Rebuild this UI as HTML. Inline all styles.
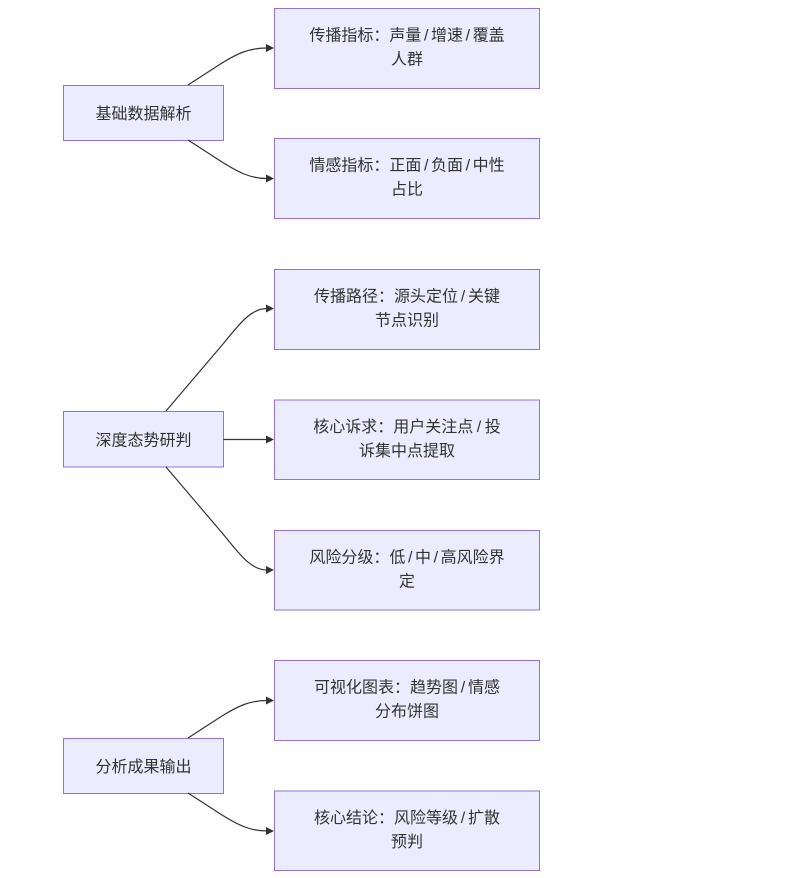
<!DOCTYPE html>
<html><head><meta charset="utf-8"><style>
html,body{margin:0;padding:0;background:#fff;}
svg{display:block;}
text{font-family:"Liberation Sans","Noto Sans CJK SC",sans-serif;font-size:16px;fill:#333;text-anchor:middle;}
.n{fill:#ECECFF;stroke:#9370DB;stroke-width:1;}
.e{fill:none;stroke:#333;stroke-width:1.2;}
.a{fill:#333;}
</style></head><body>
<svg width="810" height="878" viewBox="0 0 810 878" xmlns="http://www.w3.org/2000/svg">
<!-- group 1 -->
<rect class="n" x="63.5" y="85.5" width="160" height="55"/>
<text x="143.5" y="119">基础数据解析</text>
<rect class="n" x="274.5" y="8.5" width="265" height="80"/>
<text x="407" y="40.5">传播指标：声量<tspan dx="2.6">/</tspan><tspan dx="2.6">增速</tspan><tspan dx="2.6">/</tspan><tspan dx="2.6">覆盖</tspan></text>
<text x="407" y="64.5">人群</text>
<rect class="n" x="274.5" y="138.5" width="265" height="80"/>
<text x="407" y="170.5">情感指标：正面<tspan dx="2.6">/</tspan><tspan dx="2.6">负面</tspan><tspan dx="2.6">/</tspan><tspan dx="2.6">中性</tspan></text>
<text x="407" y="194.5">占比</text>
<path class="e" d="M188,85 L222,63 C238,53 250,48 267,48"/>
<polygon class="a" points="266,44 274,48 266,52"/>
<path class="e" d="M188,140 L222,162 C238,172 250,178.5 267,178.5"/>
<polygon class="a" points="266,174.5 274,178.5 266,182.5"/>

<!-- group 2 -->
<rect class="n" x="63.5" y="411.5" width="160" height="55.5"/>
<text x="143.5" y="445.5">深度态势研判</text>
<rect class="n" x="274.5" y="269.5" width="265" height="80"/>
<text x="407" y="301.5">传播路径：源头定位<tspan dx="2.8">/</tspan><tspan dx="2.8">关键</tspan></text>
<text x="407" y="325.5">节点识别</text>
<rect class="n" x="274.5" y="400" width="265" height="79.5"/>
<text x="407" y="432">核心诉求：用户关注点<tspan dx="3.5">/</tspan><tspan dx="3.5">投</tspan></text>
<text x="407" y="456">诉集中点提取</text>
<rect class="n" x="274.5" y="530.5" width="265" height="79.5"/>
<text x="407" y="562.5">风险分级：低<tspan dx="2.6">/</tspan><tspan dx="2.6">中</tspan><tspan dx="2.6">/</tspan><tspan dx="2.6">高风险界</tspan></text>
<text x="407" y="586.5">定</text>
<path class="e" d="M166,411 L223,344 C238,326 250,308.5 267,308.5"/>
<polygon class="a" points="266,304.5 274,308.5 266,312.5"/>
<path class="e" d="M223.5,439.5 L267,439.5"/>
<polygon class="a" points="266,435.5 274,439.5 266,443.5"/>
<path class="e" d="M166,467 L223,534 C238,552 250,570 267,570"/>
<polygon class="a" points="266,566 274,570 266,574"/>

<!-- group 3 -->
<rect class="n" x="63.5" y="738.5" width="160" height="55"/>
<text x="143.5" y="772">分析成果输出</text>
<rect class="n" x="274.5" y="660.5" width="265" height="80"/>
<text x="407" y="692.5">可视化图表：趋势图<tspan dx="2.8">/</tspan><tspan dx="2.8">情感</tspan></text>
<text x="407" y="716.5">分布饼图</text>
<rect class="n" x="274.5" y="791" width="265" height="79.5"/>
<text x="407" y="823">核心结论：风险等级<tspan dx="2.8">/</tspan><tspan dx="2.8">扩散</tspan></text>
<text x="407" y="847">预判</text>
<path class="e" d="M188,738 L222,716 C238,706 250,700.5 267,700.5"/>
<polygon class="a" points="266,696.5 274,700.5 266,704.5"/>
<path class="e" d="M188,793 L222,815 C238,825 250,831 267,831"/>
<polygon class="a" points="266,827 274,831 266,835"/>
</svg>
</body></html>
